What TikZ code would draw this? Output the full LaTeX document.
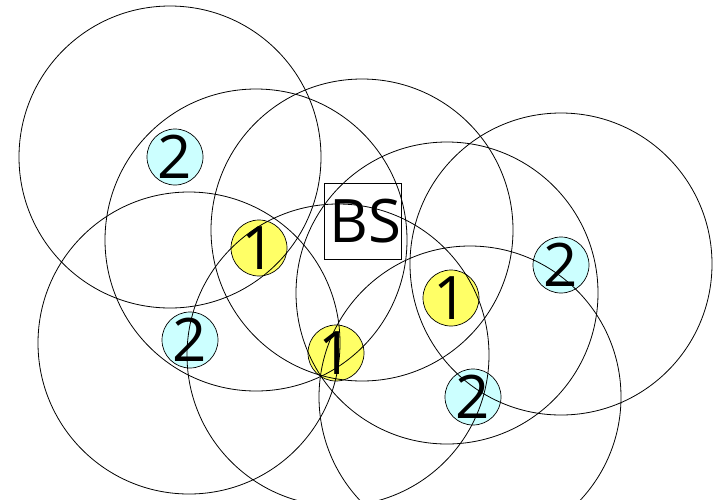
\documentclass[tikz,border=0pt]{standalone}
\usepackage{fontspec}
\setmainfont{Open Sans}
\usepackage{tikz}

\definecolor{hoponefill}{HTML}{FFFF66}
\definecolor{hoptwofill}{HTML}{CCFFFF}

\begin{document}
\begin{tikzpicture}[
    x=1pt, y=-1pt,
    every node/.style={font=\fontsize{60}{60}\selectfont},
    hopone/.style={draw, circle, fill=hoponefill, minimum size=56pt, inner sep=0pt, line width=0.7pt},
    hoptwo/.style={draw, circle, fill=hoptwofill, minimum size=56pt, inner sep=0pt, line width=0.7pt},
    base/.style={draw, minimum size=76pt, inner sep=0pt, line width=0.7pt},
    cover/.style={draw, line width=0.8pt}
]
\useasboundingbox (0,0) rectangle (714,499);
% stations
\node[base] (bs) at (363,221) {\hspace{5pt}BS};
\node[hopone] (oneA) at (259,248) {1};
\node[hopone] (oneB) at (336,353) {1};
\node[hopone] (oneC) at (451,298) {1};
\node[hoptwo] (twoA) at (175,157) {2};
\node[hoptwo] (twoB) at (190,340) {2};
\node[hoptwo] (twoC) at (561,265) {2};
\node[hoptwo] (twoD) at (473,397) {2};
% coverage areas
\coordinate (rbs) at (362,230);
\coordinate (roneA) at (256,240);
\coordinate (roneB) at (338,355);
\coordinate (roneC) at (447,293);
\coordinate (rtwoA) at (170,157);
\coordinate (rtwoB) at (189,343);
\coordinate (rtwoC) at (561,264);
\coordinate (rtwoD) at (470,397);
\draw[cover] (rbs) circle (151);
\draw[cover] (roneA) circle (151);
\draw[cover] (roneB) circle (151);
\draw[cover] (roneC) circle (151);
\draw[cover] (rtwoA) circle (151);
\draw[cover] (rtwoB) circle (151);
\draw[cover] (rtwoC) circle (151);
\draw[cover] (rtwoD) circle (151);
\end{tikzpicture}
\end{document}
